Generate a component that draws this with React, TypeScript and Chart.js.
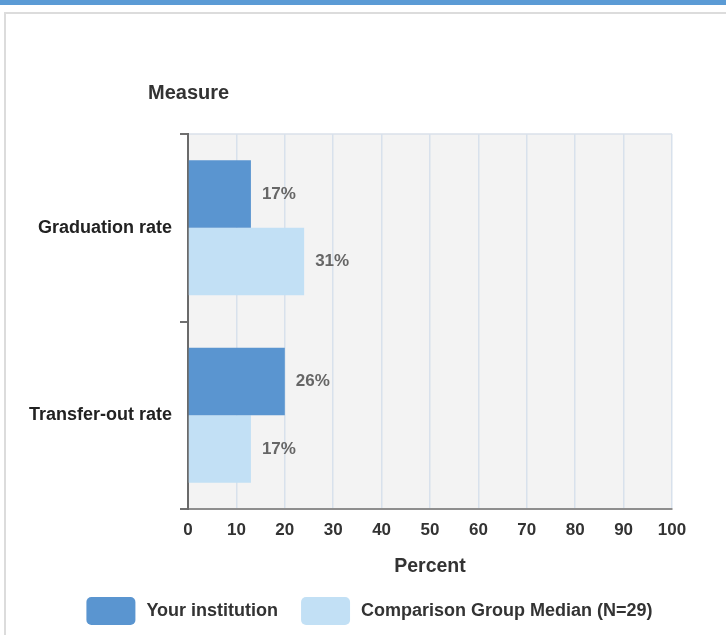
import React, { useEffect, useRef } from "react";
import { Chart, registerables } from "chart.js";

Chart.register(...registerables);

const categories = ["Graduation rate", "Transfer-out rate"];
const seriesNames = ["Your institution", "Comparison Group Median (N=29)"];
const institutionValues = [13, 20];
const comparisonValues = [24, 13];
const institutionLabels = ["17%", "26%"];
const comparisonLabels = ["31%", "17%"];
const xMin = 0;
const xMax = 100;
const xStep = 10;
const yAxisTitle = "Measure";
const xAxisTitle = "Percent";

const DARK = "#5a95d0";
const LIGHT = "#c2e0f5";
const FONT = "'Liberation Sans', Arial, sans-serif";

export default function App() {
  const ref = useRef<HTMLCanvasElement | null>(null);

  useEffect(() => {
    if (!ref.current) return;
    const valueLabels = [institutionLabels, comparisonLabels];

    const bgPlugin = {
      id: "areaBg",
      beforeDraw(chart: any) {
        const { ctx, chartArea: a } = chart;
        ctx.save();
        ctx.fillStyle = "#f3f3f3";
        ctx.fillRect(a.left, a.top, a.right - a.left, a.bottom - a.top);
        ctx.strokeStyle = "#dae1ea";
        ctx.lineWidth = 1.5;
        ctx.beginPath();
        ctx.moveTo(a.left, a.top);
        ctx.lineTo(a.right, a.top);
        ctx.stroke();
        ctx.restore();
      },
    };

    const labelPlugin = {
      id: "valueLabels",
      afterDatasetsDraw(chart: any) {
        const { ctx } = chart;
        ctx.save();
        ctx.font = `bold 17px ${FONT}`;
        ctx.fillStyle = "#666666";
        ctx.textAlign = "left";
        ctx.textBaseline = "middle";
        chart.data.datasets.forEach((_: any, di: number) => {
          const meta = chart.getDatasetMeta(di);
          meta.data.forEach((el: any, i: number) => {
            ctx.fillText(valueLabels[di][i], el.x + 11, el.y);
          });
        });
        ctx.restore();
      },
    };

    const extrasPlugin = {
      id: "extras",
      afterDraw(chart: any) {
        const { ctx } = chart;
        ctx.save();
        ctx.font = `bold 20px ${FONT}`;
        ctx.fillStyle = "#333333";
        ctx.textAlign = "left";
        ctx.textBaseline = "middle";
        ctx.fillText(yAxisTitle, 148, 93);

        ctx.font = `bold 18px ${FONT}`;
        const boxW = 49;
        const boxH = 28;
        const gapText = 11;
        const gapItem = 23;
        const ds = chart.data.datasets;
        const widths = ds.map((d: any) => ctx.measureText(d.label).width);
        let total = 0;
        widths.forEach((w: number, i: number) => {
          total += boxW + gapText + w + (i < widths.length - 1 ? gapItem : 0);
        });
        let x = 369.5 - total / 2;
        const cy = 611;
        ds.forEach((d: any, i: number) => {
          ctx.fillStyle = d.backgroundColor;
          ctx.beginPath();
          (ctx as any).roundRect(x, cy - boxH / 2, boxW, boxH, 5);
          ctx.fill();
          ctx.fillStyle = "#333333";
          ctx.fillText(d.label, x + boxW + gapText, cy);
          x += boxW + gapText + widths[i] + gapItem;
        });
        ctx.restore();
      },
    };

    const chart = new Chart(ref.current, {
      type: "bar",
      data: {
        labels: categories,
        datasets: [
          {
            label: seriesNames[0],
            data: institutionValues,
            backgroundColor: DARK,
            categoryPercentage: 0.72,
            barPercentage: 1,
          },
          {
            label: seriesNames[1],
            data: comparisonValues,
            backgroundColor: LIGHT,
            categoryPercentage: 0.72,
            barPercentage: 1,
          },
        ],
      },
      options: {
        indexAxis: "y",
        animation: false,
        responsive: false,
        maintainAspectRatio: false,
        layout: { padding: { top: 134, left: 0, right: 54, bottom: 0 } },
        plugins: {
          legend: { display: false },
          tooltip: { enabled: false },
          title: { display: false },
        },
        scales: {
          x: {
            min: xMin,
            max: xMax,
            ticks: {
              stepSize: xStep,
              color: "#333333",
              font: { family: FONT, size: 17, weight: "bold" },
              padding: 11,
            },
            grid: {
              color: "#d8e1ec",
              lineWidth: 1.5,
              drawTicks: false,
            },
            border: { display: true, color: "#8e8e8e", width: 2 },
            title: {
              display: true,
              text: xAxisTitle,
              color: "#333333",
              font: { family: FONT, size: 19.5, weight: "bold" },
              padding: { top: 0, bottom: 57 },
            },
            afterFit(scale: any) {
              scale.height = 126;
            },
          },
          y: {
            ticks: {
              color: "#222222",
              font: { family: FONT, size: 18, weight: "bold" },
              padding: 8,
            },
            grid: {
              drawOnChartArea: false,
              drawTicks: true,
              tickLength: 8,
              color: "#707070",
              lineWidth: 2,
            },
            border: { display: true, color: "#6a6a6a", width: 2 },
            afterFit(scale: any) {
              scale.width = 188;
            },
          },
        },
      },
      plugins: [bgPlugin, labelPlugin, extrasPlugin],
    } as any);

    return () => chart.destroy();
  }, []);

  return (
    <div
      style={{
        position: "fixed",
        left: 0,
        top: 0,
        width: 726,
        height: 635,
        background: "#ffffff",
        overflow: "hidden",
      }}
    >
      <div
        style={{
          position: "absolute",
          left: 0,
          top: 0,
          width: 726,
          height: 5,
          background: "#5b9bd5",
        }}
      />
      <div
        style={{
          position: "absolute",
          left: 4,
          top: 12,
          width: 800,
          height: 700,
          border: "2px solid #dcdcdc",
        }}
      />
      <canvas
        ref={ref}
        width={726}
        height={635}
        style={{ position: "absolute", left: 0, top: 0, width: 726, height: 635 }}
      />
    </div>
  );
}
